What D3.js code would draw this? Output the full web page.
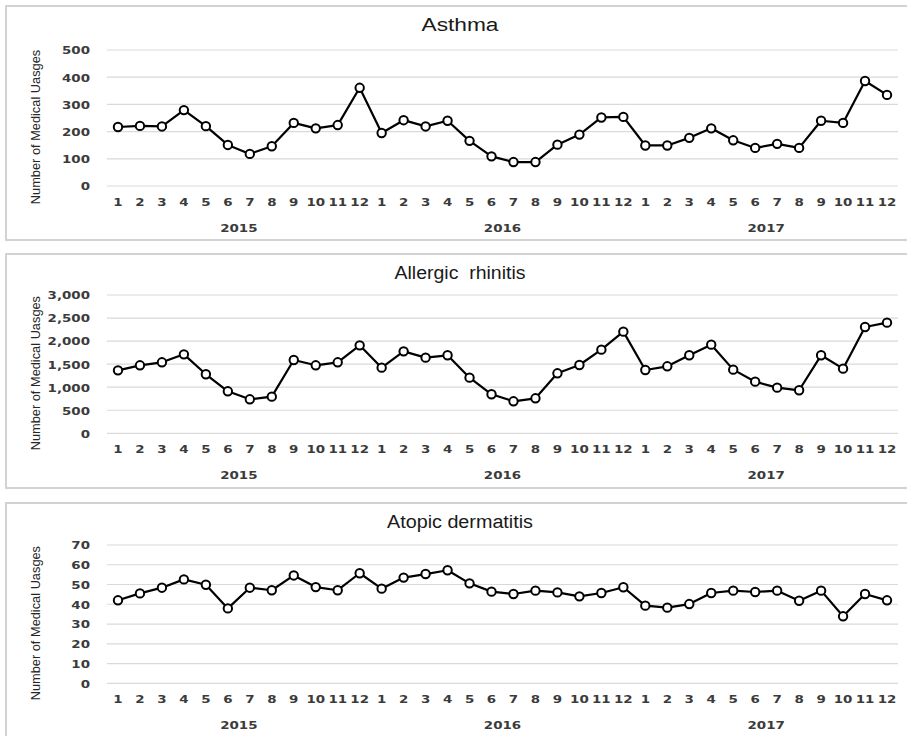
<!DOCTYPE html>
<html>
<head>
<meta charset="utf-8">
<script src="https://cdn.jsdelivr.net/npm/d3@7"></script>
<style>
  html, body { margin: 0; padding: 0; background: #ffffff; }
  svg { display: block; }
</style>
</head>
<body>
<svg id="chart" width="907" height="736"></svg>
<script>
// ---------------- data ----------------
const years = ["2015", "2016", "2017"];
const months = ["1","2","3","4","5","6","7","8","9","10","11","12"];
const categories = years.flatMap(y => months.map(m => y + "-" + m));

const asthmaValues = [217,221,219,279,220,151,118,146,232,212,224,361,
                      195,242,219,240,166,109,88,88,152,189,252,254,
                      149,149,177,212,168,140,155,140,240,232,386,335];
const rhinitisValues = [1366,1475,1540,1713,1280,911,737,795,1590,1475,1540,1908,
                        1424,1778,1641,1692,1207,846,694,759,1301,1482,1814,2205,
                        1373,1453,1692,1923,1381,1120,990,933,1692,1402,2306,2400];
const atopicValues = [42.0,45.5,48.4,52.6,49.9,37.9,48.4,47.1,54.6,48.7,47.1,55.7,
                      47.9,53.5,55.3,57.2,50.6,46.4,45.2,46.9,46.0,44.0,45.7,48.6,
                      39.3,38.3,40.1,45.7,46.9,46.2,46.9,41.8,46.9,33.9,45.2,42.0];

const asthmaTicks = [0,100,200,300,400,500];
const rhinitisTicks = [0,500,1000,1500,2000,2500,3000];
const atopicTicks = [0,10,20,30,40,50,60,70];

const titles = ["Asthma", "Allergic  rhinitis", "Atopic dermatitis"];
const yAxisTitle = "Number of Medical Uasges";

// ---------------- layout ----------------
const panels = [
  { title: titles[0], values: asthmaValues, ticks: asthmaTicks, top: 6, h: 234, gTop: 50, gBot: 186, titleW: 77, fmt: d3.format("d") },
  { title: titles[1], values: rhinitisValues, ticks: rhinitisTicks, top: 254, h: 234, gTop: 295, gBot: 433.3, titleW: 131, fmt: d3.format(",") },
  { title: titles[2], values: atopicValues, ticks: atopicTicks, top: 503, h: 240, gTop: 545, gBot: 683.3, titleW: 146, fmt: d3.format("d") }
];

const svg = d3.select("#chart");
const x = d3.scaleBand().domain(categories).range([107, 898]).paddingInner(0).paddingOuter(0);
const cx = c => x(c) + x.bandwidth() / 2;

const tickFont = "'DejaVu Sans', Verdana, sans-serif";
const tickColor = "#3b3b3b";
const SX = 1.22;
const FS = 11;

panels.forEach(p => {
  const g = svg.append("g");

  // panel frame
  g.append("rect")
    .attr("x", 6).attr("y", p.top)
    .attr("width", 915).attr("height", p.h)
    .attr("fill", "#ffffff")
    .attr("stroke", "#d2d2d2").attr("stroke-width", 2);

  const y = d3.scaleLinear()
    .domain([0, d3.max(p.ticks)])
    .range([p.gBot, p.gTop]);

  // gridlines
  g.append("g").selectAll("line")
    .data(p.ticks).join("line")
    .attr("x1", 107).attr("x2", 898)
    .attr("y1", d => y(d)).attr("y2", d => y(d))
    .attr("stroke", "#d9d9d9").attr("stroke-width", 1.2);

  // y axis labels
  const yAxis = d3.axisLeft(y).tickValues(p.ticks).tickFormat(p.fmt).tickSize(0).tickPadding(0);
  const ya = g.append("g").attr("transform", "translate(90,0)").call(yAxis);
  ya.select(".domain").remove();
  ya.selectAll("text")
    .attr("x", 0)
    .attr("dy", "0.35em")
    .attr("transform", `scale(${SX},1)`)
    .attr("font-family", tickFont).attr("font-weight", "bold")
    .attr("font-size", FS).attr("fill", tickColor)
    .attr("text-anchor", "end");

  // x axis (month labels)
  const xAxis = d3.axisBottom(x).tickFormat(c => c.split("-")[1]).tickSize(0).tickPadding(0);
  const xa = g.append("g").attr("transform", `translate(0,${p.gBot + 16})`).call(xAxis);
  xa.select(".domain").remove();
  xa.selectAll("text")
    .attr("y", 0).attr("dy", "0.35em")
    .attr("transform", `scale(${SX},1)`)
    .attr("font-family", tickFont).attr("font-weight", "bold")
    .attr("font-size", FS).attr("fill", tickColor);

  // year labels
  years.forEach((yr, i) => {
    const first = x(categories[i * 12]);
    const last = x(categories[i * 12 + 11]) + x.bandwidth();
    g.append("text")
      .attr("transform", `translate(${(first + last) / 2},${p.gBot + 42}) scale(${SX},1)`)
      .attr("dy", "0.35em")
      .attr("text-anchor", "middle")
      .attr("font-family", tickFont).attr("font-weight", "bold")
      .attr("font-size", FS).attr("fill", tickColor)
      .text(yr);
  });

  // y axis title
  g.append("text")
    .attr("transform", `translate(36,${(p.gTop + p.gBot) / 2 + 9}) rotate(-90)`)
    .attr("text-anchor", "middle")
    .attr("dy", "0.35em")
    .attr("font-family", "'Liberation Sans', Arial, sans-serif")
    .attr("font-size", 12.8).attr("fill", "#262626")
    .text(yAxisTitle);

  // chart title
  g.append("text")
    .attr("x", 460).attr("y", p.top + 19)
    .attr("dy", "0.35em")
    .attr("text-anchor", "middle")
    .attr("font-family", "'Liberation Sans', Arial, sans-serif")
    .attr("font-size", 18).attr("fill", "#1a1a1a")
    .attr("textLength", p.titleW).attr("lengthAdjust", "spacingAndGlyphs")
    .style("white-space", "pre")
    .text(p.title);

  // line
  const line = d3.line()
    .x((d, i) => cx(categories[i]))
    .y(d => y(d));
  g.append("path")
    .datum(p.values)
    .attr("fill", "none")
    .attr("stroke", "#000000").attr("stroke-width", 2.2)
    .attr("stroke-linejoin", "round")
    .attr("d", line);

  // markers
  g.append("g").selectAll("circle")
    .data(p.values).join("circle")
    .attr("cx", (d, i) => cx(categories[i]))
    .attr("cy", d => y(d))
    .attr("r", 4.2)
    .attr("fill", "#ffffff")
    .attr("stroke", "#000000").attr("stroke-width", 2);
});
</script>
</body>
</html>
